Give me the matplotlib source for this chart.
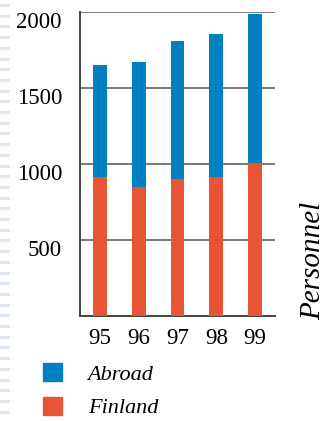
import matplotlib
matplotlib.use("Agg")
import matplotlib.pyplot as plt
from matplotlib.patches import Patch
from matplotlib.lines import Line2D
import numpy as np

years = ["95", "96", "97", "98", "99"]
finland = [914, 849, 901, 914, 1007]
total = [1651, 1671, 1809, 1855, 1987]
abroad = [t - f for t, f in zip(total, finland)]

blue = "#0080c0"
orange = "#e85535"

plt.rcParams["font.family"] = ["Liberation Serif", "DejaVu Serif"]

W, H = 334, 421
fig = plt.figure(figsize=(W / 100, H / 100), dpi=100)
ax = fig.add_axes([80 / W, 1 - 316 / H, 195 / W, 304 / H])

x = np.arange(len(years))
ax.bar(x, finland, width=0.36, color=orange, zorder=3)
ax.bar(x, abroad, bottom=finland, width=0.36, color=blue, zorder=3)

ax.set_xlim(-0.516, 4.516)
ax.set_ylim(0, 2000)
ax.set_yticks([500, 1000, 1500, 2000])
ax.set_xticks(x)
ax.set_xticklabels(years)
ax.yaxis.grid(True, color="#555555", linewidth=1.1, zorder=0)
ax.tick_params(axis="both", length=0, labelsize=16.5)
ax.tick_params(axis="y", pad=13)
ax.tick_params(axis="x", pad=9)
for lab in ax.get_yticklabels():
    lab.set_va("top")

for s in ["top", "right"]:
    ax.spines[s].set_visible(False)
for s in ["left", "bottom"]:
    ax.spines[s].set_color("#444444")
    ax.spines[s].set_linewidth(1.4)

fig.text(313 / W, 1 - 261 / H, "Personnel", rotation=90, style="italic",
         fontsize=21, ha="center", va="center")

handles = [Patch(color=blue, label="Abroad"), Patch(color=orange, label="Finland")]
fig.legend(handles=handles, loc="upper left", bbox_to_anchor=(43 / W, 1 - 363 / H),
           frameon=False, prop={"style": "italic", "size": 16},
           handlelength=0.86, handleheight=0.86, handletextpad=1.15, labelspacing=0.55,
           borderpad=0, borderaxespad=0)

# dashed strip down the left edge
for yy in np.arange(5, 416, 10.7):
    fig.add_artist(Line2D([0, 8 / W], [1 - yy / H] * 2, color="#dde4ee", linewidth=2))

fig.savefig("out.png", dpi=100)
